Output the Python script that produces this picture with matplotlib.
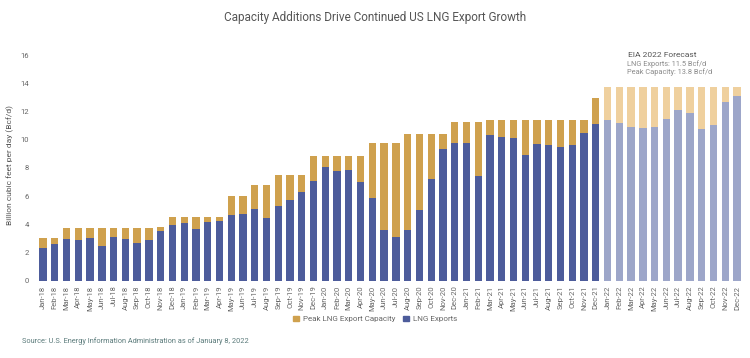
import numpy as np
import pandas as pd
import matplotlib.pyplot as plt
from matplotlib.patches import Patch

plt.rcParams['font.family'] = ['Roboto', 'DejaVu Sans']

months = list(pd.date_range("2018-01-01", "2022-12-01", freq="MS").strftime("%b-%y"))

# LNG exports, Bcf/d (2022 = EIA forecast)
exports = [2.3, 2.6, 2.95, 2.88, 3.0, 2.45, 3.07, 2.93, 2.7, 2.88, 3.55, 3.95,
           4.1, 3.64, 4.18, 4.23, 4.66, 4.73, 5.06, 4.42, 5.32, 5.72, 6.31, 7.09,
           8.06, 7.78, 7.85, 6.97, 5.84, 3.6, 3.07, 3.6, 5.0, 7.2, 9.34, 9.74,
           9.79, 7.42, 10.33, 10.17, 10.1, 8.9, 9.67, 9.62, 9.5, 9.62, 10.45, 11.09,
           11.4, 11.16, 10.92, 10.8, 10.92, 11.47, 12.1, 11.87, 10.76, 11.04, 12.65, 13.1]

# peak LNG export capacity, Bcf/d
capacity = [3.0, 3.0, 3.76, 3.76, 3.76, 3.76, 3.76, 3.76, 3.76, 3.76, 3.8, 4.54,
            4.54, 4.54, 4.54, 4.54, 6.0, 6.0, 6.78, 6.78, 7.49, 7.49, 7.49, 8.87,
            8.87, 8.87, 8.87, 8.87, 9.76, 9.76, 9.76, 10.4, 10.4, 10.4, 10.4, 11.23,
            11.23, 11.23, 11.4, 11.4, 11.4, 11.4, 11.4, 11.4, 11.4, 11.4, 11.4, 12.98,
            13.76, 13.76, 13.76, 13.76, 13.76, 13.76, 13.76, 13.76, 13.76, 13.76, 13.76, 13.76]

exports = np.array(exports)
capacity = np.array(capacity)
x = np.arange(len(months))
forecast = x >= months.index("Jan-22")

blue, blue_fc = "#4d5c9b", "#9da6c9"
gold, gold_fc = "#cfa14e", "#efd09e"
exp_colors = np.where(forecast, blue_fc, blue)
cap_colors = np.where(forecast, gold_fc, gold)

fig = plt.figure(figsize=(7.5, 3.58), dpi=100)
ax = fig.add_axes([0.048, 0.216, 0.944, 0.63])

ax.bar(x, exports, width=0.62, color=exp_colors)
ax.bar(x, capacity - exports, bottom=exports, width=0.62, color=cap_colors)

ax.set_xlim(-0.6, len(months) - 0.4)
ax.set_ylim(0, 16)
ax.set_yticks(np.arange(0, 17, 2))
ax.set_xticks(x)
ax.set_xticklabels(months, rotation=90)
ax.tick_params(length=0, labelsize=5.5, labelcolor="#666666")
ax.tick_params(axis="y", pad=5)
for s in ax.spines.values():
    s.set_visible(False)

fig.text(0.5, 0.95, "Capacity Additions Drive Continued US LNG Export Growth",
         ha="center", va="center", fontsize=8.5, color="#555555")
fig.text(0.014, 0.54, "Billion cubic feet per day (Bcf/d)", rotation=90,
         ha="center", va="center", fontsize=6, color="#555555")

fig.text(0.883, 0.845, "EIA 2022 Forecast", ha="center", va="center",
         fontsize=6, color="#555555")
fig.text(0.836, 0.82, "LNG Exports: 11.5 Bcf/d", ha="left", va="center",
         fontsize=5.3, color="#8a8a8a")
fig.text(0.836, 0.798, "Peak Capacity: 13.8 Bcf/d", ha="left", va="center",
         fontsize=5.3, color="#8a8a8a")

handles = [Patch(color=gold), Patch(color=blue)]
fig.legend(handles, ["Peak LNG Export Capacity", "LNG Exports"], loc="center",
           bbox_to_anchor=(0.5, 0.109), ncol=2, frameon=False, fontsize=5.8,
           handlelength=0.7, handleheight=0.7, handletextpad=0.5, columnspacing=1.0,
           labelcolor="#666666")

fig.text(0.029, 0.047, "Source: U.S. Energy Information Administration as of January 8, 2022",
         ha="left", va="center", fontsize=5.3, color="#5a7a7a")

fig.savefig("out.png", dpi=100)
